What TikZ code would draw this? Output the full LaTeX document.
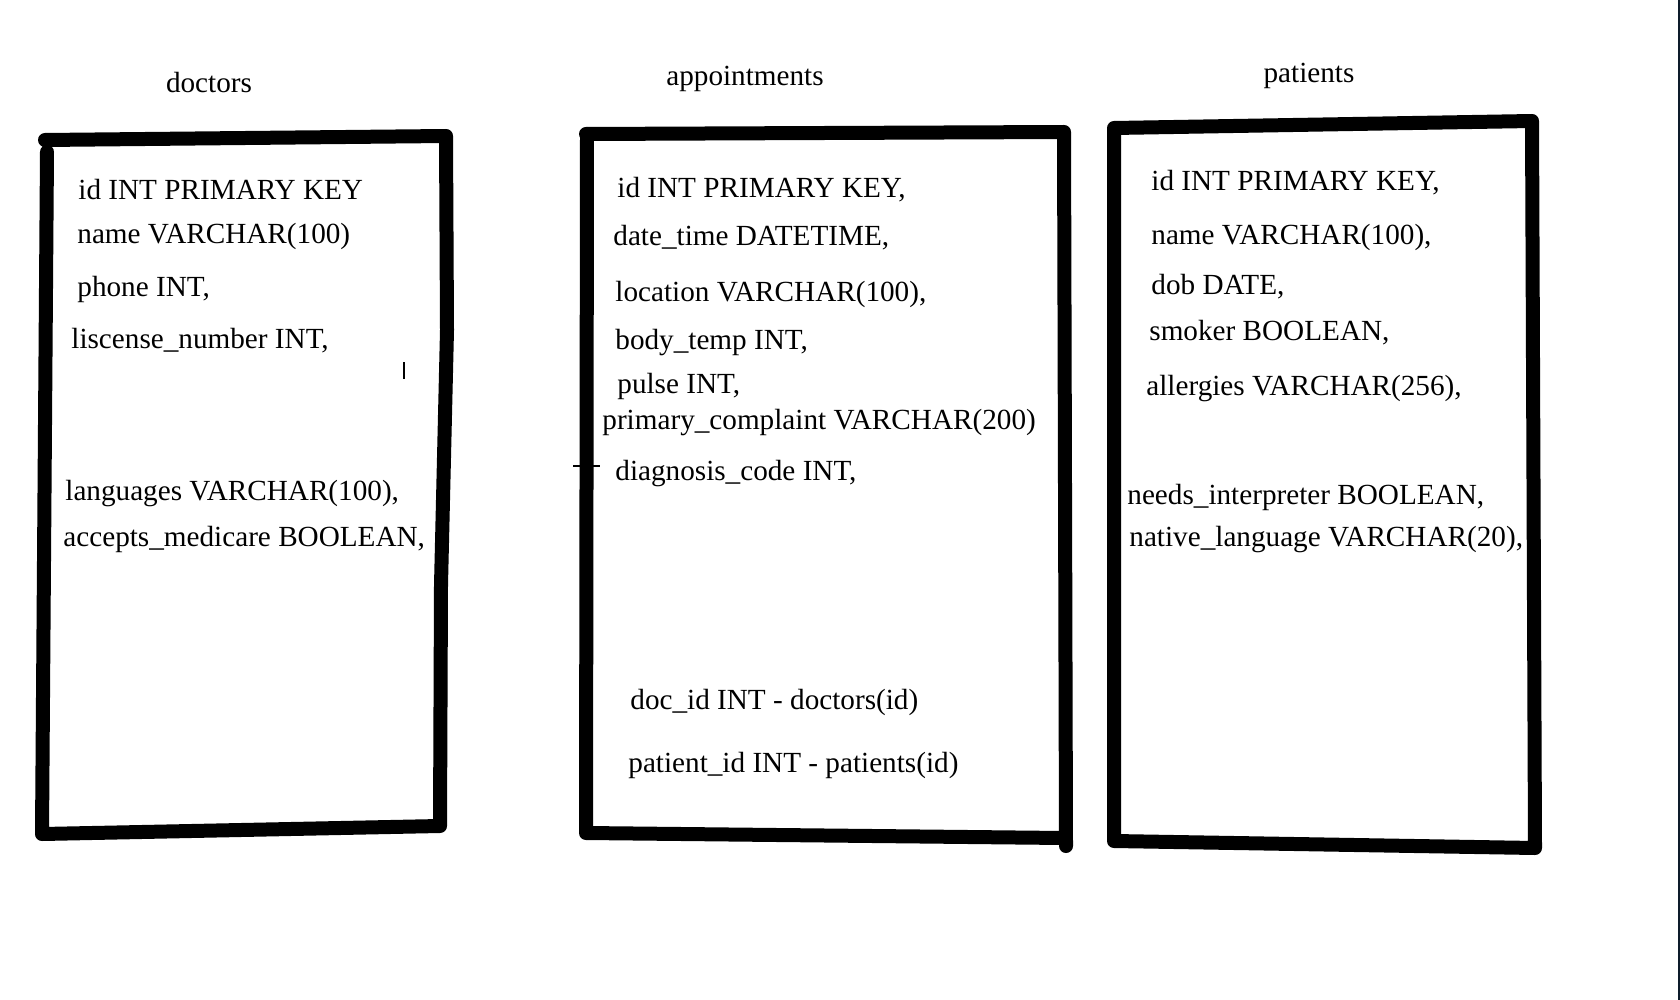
\documentclass[tikz,border=0pt]{standalone}
\usepackage{fontspec}
\setmainfont{Liberation Serif}
\usepackage{tikz}
\tikzset{
         tblline/.style={line width=7pt, line cap=round, line join=round},
         field/.style={anchor=base west, inner sep=0pt, font=\fontsize{14.6}{17}\selectfont},
         title/.style={anchor=base, inner sep=0pt, font=\fontsize{14.6}{17}\selectfont}
        }

\begin{document}
\begin{tikzpicture}[x=0.5pt,y=-0.5pt]
      \useasboundingbox (0,0) rectangle (1680,1000);
      \fill[white] (0,0) rectangle (1680,1000); % page
      \draw[line width=1pt,color={rgb,255:red,13;green,27;blue,42}] (1679,0) -- (1679,1000); % right border

      % doctors table
      \node[title] (doctors) at (209,93) {doctors}; % title
      \draw[tblline] (45,140) -- (446,136) -- (447,330) -- (441,585) -- (440,826) -- (42,834) -- (47,152); % box
      \node[field] (docid) at (78,200) {id INT PRIMARY KEY};
      \node[field] (docname) at (77,243) {name VARCHAR(100)};
      \node[field] (docphone) at (77,296) {phone INT,};
      \node[field] (doclic) at (71,348) {liscense\_number INT,};
      \node[field] (doclang) at (65,500) {languages VARCHAR(100),};
      \node[field] (docmed) at (63,546) {accepts\_medicare BOOLEAN,};
      \draw[line width=1pt] (404,362) -- (404,379); % stray mark

      % appointments table
      \node[title] (appointments) at (745,86) {appointments}; % title
      \draw[tblline] (586,134) -- (1064,132) -- (1066,846); % box top and right
      \draw[tblline] (1064,838) -- (586,833) -- (587,134); % box bottom and left
      \node[field] (appid) at (617,198) {id INT PRIMARY KEY,};
      \node[field] (appdate) at (613,246) {date\_time DATETIME,};
      \node[field] (apploc) at (615,301) {location VARCHAR(100),};
      \node[field] (apptemp) at (615,349) {body\_temp INT,};
      \node[field] (apppulse) at (617,393) {pulse INT,};
      \node[field] (appcompl) at (602,429) {primary\_complaint VARCHAR(200)};
      \node[field] (appdiag) at (615,480) {diagnosis\_code INT,};
      \node[field] (appdoc) at (630,709) {doc\_id INT - doctors(id)};
      \node[field] (apppat) at (628,772) {patient\_id INT - patients(id)};
      \draw[line width=0.8pt] (573,466) -- (600,466); % stray tick

      % patients table
      \node[title] (patients) at (1309,83) {patients}; % title
      \draw[tblline] (1114,128) -- (1532,121) -- (1535,848) -- (1114,841) -- cycle; % box
      \node[field] (patid) at (1151,191) {id INT PRIMARY KEY,};
      \node[field] (patname) at (1151,244) {name VARCHAR(100),};
      \node[field] (patdob) at (1151,294) {dob DATE,};
      \node[field] (patsmoke) at (1149,340) {smoker BOOLEAN,};
      \node[field] (patallerg) at (1146,395) {allergies VARCHAR(256),};
      \node[field] (patinterp) at (1127,504) {needs\_interpreter BOOLEAN,};
      \node[field] (patlang) at (1129,546) {native\_language VARCHAR(20),};
\end{tikzpicture}
\end{document}
